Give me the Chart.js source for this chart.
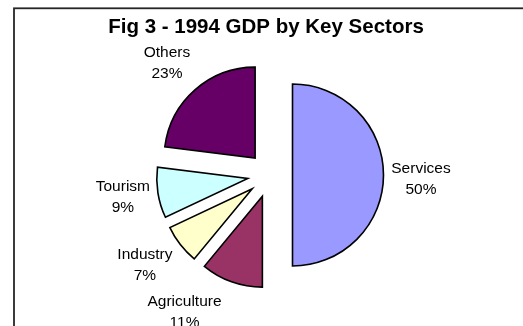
<!DOCTYPE html>
<html>
<head>
<meta charset="utf-8">
<title>Fig 3 - 1994 GDP by Key Sectors</title>
<script src="https://cdn.jsdelivr.net/npm/chart.js@4.4.1/dist/chart.umd.min.js"></script>
<style>
  html, body { margin: 0; padding: 0; background: #ffffff; }
  #wrap { width: 523px; height: 326px; position: relative; }
</style>
</head>
<body>
<div id="wrap"><canvas id="gdp" width="523" height="326"></canvas></div>
<script>
// 1994 GDP share by key sector (percent), clockwise from 12 o'clock
const sectors = ['Services', 'Agriculture', 'Industry', 'Tourism', 'Others'];
const shares = [50, 11, 7, 9, 23];
const sliceColors = ['#9999FF', '#993366', '#FFFFCC', '#CCFFFF', '#660066'];
const chartTitle = 'Fig 3 - 1994 GDP by Key Sectors';

// Outer frame plus the heading text
const framePlugin = {
  id: 'frame',
  beforeDraw(chart, args, opts) {
    const ctx = chart.ctx;
    ctx.save();
    ctx.fillStyle = '#ffffff';
    ctx.fillRect(0, 0, chart.width, chart.height);
    ctx.strokeStyle = opts.color;
    ctx.lineWidth = opts.lineWidth;
    ctx.strokeRect(opts.left, opts.top, chart.width + 40, chart.height + 40);
    ctx.fillStyle = '#000000';
    ctx.font = opts.titleFont;
    ctx.textAlign = 'center';
    ctx.textBaseline = 'alphabetic';
    ctx.fillText(chartTitle, opts.titleX, opts.titleY);
    ctx.restore();
  }
};

// Every slice is pulled out of the pie along its own bisector
const explodePlugin = {
  id: 'explode',
  beforeDatasetDraw(chart, args, opts) {
    const ctx = chart.ctx;
    args.meta.data.forEach(arc => {
      const p = arc.getProps(['startAngle', 'endAngle'], true);
      const mid = (p.startAngle + p.endAngle) / 2;
      ctx.save();
      ctx.translate(Math.cos(mid) * opts.distance, Math.sin(mid) * opts.distance);
      arc.draw(ctx);
      ctx.restore();
    });
    return false;
  }
};

// Category name and percentage written outside each slice
const sliceLabelPlugin = {
  id: 'sliceLabels',
  afterDatasetsDraw(chart, args, opts) {
    const ctx = chart.ctx;
    const meta = chart.getDatasetMeta(0);
    const values = chart.data.datasets[0].data;
    const total = values.reduce((a, b) => a + b, 0);
    ctx.save();
    ctx.font = opts.font;
    ctx.fillStyle = opts.color;
    ctx.textAlign = 'center';
    ctx.textBaseline = 'alphabetic';
    meta.data.forEach((arc, i) => {
      const p = arc.getProps(['x', 'y', 'startAngle', 'endAngle'], true);
      const mid = (p.startAngle + p.endAngle) / 2;
      const shift = opts.shift[i] || [0, 0];
      const cx = p.x + Math.cos(mid) * opts.distance + shift[0];
      const cy = p.y + Math.sin(mid) * opts.distance + shift[1];
      const pct = Math.round(values[i] / total * 100) + '%';
      ctx.fillText(chart.data.labels[i], cx, cy - 5.2);
      ctx.fillText(pct, cx, cy - 5.2 + opts.lineHeight);
    });
    ctx.restore();
  }
};

new Chart(document.getElementById('gdp'), {
  type: 'pie',
  data: {
    labels: sectors,
    datasets: [{
      data: shares,
      backgroundColor: sliceColors,
      borderColor: '#000000',
      borderWidth: 1.6,
      borderJoinStyle: 'miter',
      radius: 91
    }]
  },
  plugins: [framePlugin, explodePlugin, sliceLabelPlugin],
  options: {
    responsive: false,
    devicePixelRatio: 1,
    animation: false,
    events: [],
    layout: { padding: { left: 100, right: 83, top: 40, bottom: 16 } },
    plugins: {
      legend: { display: false },
      title: { display: false },
      tooltip: { enabled: false },
      frame: {
        left: 14, top: 8.3, lineWidth: 1.8, color: '#262626',
        titleFont: 'bold 20.5px "Liberation Sans", Arial, sans-serif',
        titleX: 266, titleY: 33
      },
      explode: { distance: 22.5 },
      sliceLabels: {
        font: '15.5px "Liberation Sans", Arial, sans-serif',
        color: '#000000',
        distance: 152,
        lineHeight: 21,
        shift: [[-1, 3], [-34, -7], [-5, -4], [3, -3], [-2.5, 1.5]]
      }
    }
  }
});
</script>
</body>
</html>
